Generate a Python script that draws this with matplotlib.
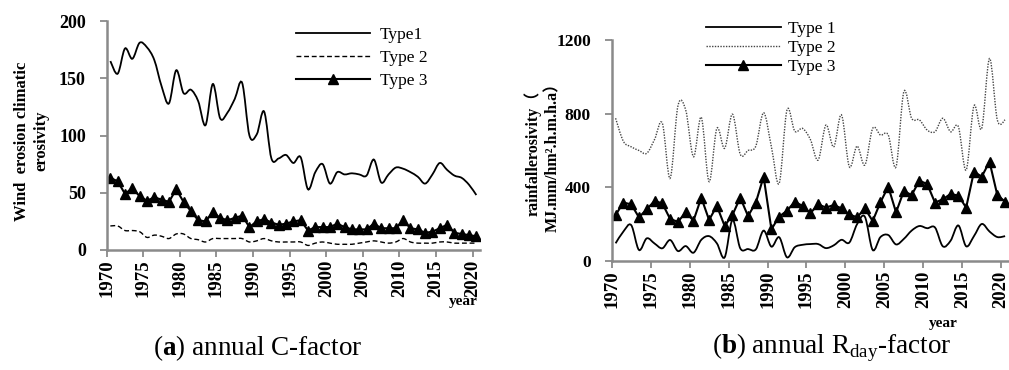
import numpy as np
import matplotlib
matplotlib.use("Agg")
from matplotlib import pyplot as plt
from matplotlib.path import Path
from matplotlib.patches import PathPatch
from matplotlib.lines import Line2D

plt.rcParams["font.family"] = ["Liberation Serif", "Noto Sans CJK SC", "DejaVu Sans"]
plt.rcParams["mathtext.fontset"] = "custom"
plt.rcParams["mathtext.rm"] = "Liberation Serif"
plt.rcParams["mathtext.bf"] = "Liberation Serif:bold"

years = list(range(1970, 2021))
tick_years = list(range(1970, 2021, 5))

# (a) annual C-factor
c_type1 = [165, 154, 176, 167, 181, 177, 166, 143, 128, 157,
           137, 140, 130, 109, 145, 115, 120, 132, 146, 100,
           101, 121, 80, 80, 83, 76, 81, 53, 68, 75,
           58, 68, 66, 67, 66, 65, 79, 59, 66, 72,
           71, 68, 64, 58, 66, 76, 70, 65, 63, 57,
           48]
c_type2 = [21, 21, 17, 17, 16, 11, 13, 12, 10, 14,
           14, 10, 9, 7, 10, 10, 10, 10, 10, 7,
           8, 10, 8, 7, 7, 7, 7, 4, 6, 7,
           6, 5, 5, 5, 6, 7, 8, 7, 6, 7,
           10, 7, 6, 6, 6, 7, 7, 6, 6, 6,
           6]
c_type3 = [63, 60, 49, 54, 47, 43, 46, 44, 42, 53,
           42, 34, 26, 25, 33, 28, 26, 28, 30, 20,
           25, 27, 24, 22, 23, 25, 26, 17, 20, 20,
           20, 23, 20, 18, 18, 18, 23, 19, 19, 19,
           26, 19, 18, 15, 16, 19, 22, 15, 14, 13,
           12]

# (b) annual Rday-factor
r_type1 = [96, 160, 195, 60, 123, 95, 69, 114, 54, 81,
           45, 115, 135, 96, 20, 223, 69, 65, 63, 165,
           78, 129, 20, 75, 88, 92, 92, 70, 85, 115,
           100, 200, 240, 60, 130, 141, 90, 120, 165, 190,
           178, 182, 80, 110, 193, 80, 135, 201, 160, 130,
           135]
r_type2 = [775, 650, 620, 600, 585, 660, 748, 449, 842, 820,
           566, 780, 431, 720, 612, 797, 580, 600, 624, 805,
           620, 422, 820, 705, 720, 660, 548, 738, 620, 793,
           512, 624, 521, 720, 684, 684, 512, 919, 775, 766,
           711, 702, 775, 702, 729, 494, 842, 720, 1100, 766,
           766]
r_type3 = [250, 317, 308, 237, 281, 326, 313, 228, 213, 264,
           219, 344, 223, 299, 190, 250, 344, 244, 317, 458,
           172, 241, 273, 322, 299, 259, 308, 290, 304, 286,
           253, 237, 286, 217, 319, 404, 264, 380, 358, 436,
           418, 317, 335, 364, 355, 290, 485, 458, 539, 358,
           322]

W, H = 1009, 370
GRAY = "#8a8a8a"


def smooth_path(x, y):
    # excel style smoothed line: bezier through every point
    x = np.asarray(x, float)
    y = np.asarray(y, float)
    n = len(x)
    verts = [(x[0], y[0])]
    codes = [Path.MOVETO]
    for i in range(n - 1):
        p0 = np.array([x[max(i - 1, 0)], y[max(i - 1, 0)]])
        p1 = np.array([x[i], y[i]])
        p2 = np.array([x[i + 1], y[i + 1]])
        p3 = np.array([x[min(i + 2, n - 1)], y[min(i + 2, n - 1)]])
        c1 = p1 + (p2 - p0) / 6
        c2 = p2 - (p3 - p1) / 6
        verts += [tuple(c1), tuple(c2), tuple(p2)]
        codes += [Path.CURVE4] * 3
    return Path(verts, codes)


def fx(px):
    return px / W


def fy(py):
    return 1 - py / H


def style_axes(ax, ymax, ystep, ysize):
    pos = np.arange(len(years)) + 0.5
    ax.set_xlim(0, len(years))
    ax.set_ylim(0, ymax)
    ax.set_xticks([years.index(t) for t in tick_years])
    ax.set_xticklabels([str(t) for t in tick_years], rotation=90,
                       fontsize=13.5, fontweight="bold")
    ax.set_yticks(np.arange(0, ymax + 1, ystep))
    ax.set_yticklabels([str(int(v)) for v in np.arange(0, ymax + 1, ystep)],
                       fontsize=ysize, fontweight="bold")
    for s in ["top", "right"]:
        ax.spines[s].set_visible(False)
    for s in ["left", "bottom"]:
        ax.spines[s].set_color(GRAY)
        ax.spines[s].set_linewidth(1.8)
    ax.tick_params(axis="both", color=GRAY, width=1.3, length=5, pad=2)
    ax.tick_params(axis="y", pad=10)
    return pos


fig = plt.figure(figsize=(W / 100, H / 100), dpi=100)

# left panel
ax1 = fig.add_axes([fx(106.7), fy(250), 373.3 / W, 229 / H])
pos = style_axes(ax1, 200, 50, 13)
ax1.add_patch(PathPatch(smooth_path(pos, c_type1), fill=False, color="black", lw=1.3))
ax1.add_patch(PathPatch(smooth_path(pos, c_type2), fill=False, color="black", lw=1.0,
                        linestyle=(0, (3.5, 2))))
ax1.plot(pos, c_type3, color="black", lw=1.5, marker="^", markersize=7)

h1 = [Line2D([], [], color="black", lw=1.3),
      Line2D([], [], color="black", lw=1.0, linestyle=(0, (3.5, 2))),
      Line2D([], [], color="black", lw=1.5, marker="^", markersize=7)]
ax1.legend(h1, ["Type1", "Type 2", "Type 3"], loc="upper left",
           bbox_to_anchor=(fx(295.7), fy(27)), bbox_transform=fig.transFigure,
           frameon=False, fontsize=12.5, handlelength=4.3, handletextpad=0.55,
           labelspacing=0.38, borderpad=0, borderaxespad=0)

fig.text(fx(32), fy(141), "Wind  erosion climatic\nerosivity", rotation=90,
         ha="center", va="center", multialignment="center",
         fontsize=12, fontweight="bold", linespacing=1.3)
fig.text(fx(463), fy(302), "year", ha="center", va="center",
         fontsize=11, fontweight="bold")

# right panel
ax2 = fig.add_axes([fx(611.7), fy(261), 397.3 / W, 221 / H])
pos = style_axes(ax2, 1200, 400, 12.5)
ax2.add_patch(PathPatch(smooth_path(pos, r_type1), fill=False, color="black", lw=1.3))
ax2.add_patch(PathPatch(smooth_path(pos, r_type2), fill=False, color="#444444", lw=1.0,
                        linestyle=(0, (1, 1))))
ax2.plot(pos, r_type3, color="black", lw=1.5, marker="^", markersize=7)

h2 = [Line2D([], [], color="black", lw=1.3),
      Line2D([], [], color="#444444", lw=1.0, linestyle=(0, (1, 1))),
      Line2D([], [], color="black", lw=1.5, marker="^", markersize=7)]
ax2.legend(h2, ["Type 1", "Type 2", "Type 3"], loc="upper left",
           bbox_to_anchor=(fx(706), fy(20.5)), bbox_transform=fig.transFigure,
           frameon=False, fontsize=12.5, handlelength=4.3, handletextpad=0.4,
           labelspacing=0.17, borderpad=0, borderaxespad=0)

fig.text(fx(542.5), fy(153), "rainfallerosivity（\nMJ.mm/hm².h.m.h.a）", rotation=90,
         ha="center", va="center", multialignment="center",
         fontsize=11.5, fontweight="bold", linespacing=1.3)
fig.text(fx(943), fy(323), "year", ha="center", va="center",
         fontsize=11, fontweight="bold")

# captions
fig.text(fx(258), fy(348), r"($\mathbf{a}$) annual C-factor", ha="center", va="center",
         fontsize=19.5)
fig.text(fx(832), fy(348), r"($\mathbf{b}$) annual R$_{\mathrm{day}}$-factor",
         ha="center", va="center", fontsize=19.5)

plt.savefig("out.png", dpi=100)
